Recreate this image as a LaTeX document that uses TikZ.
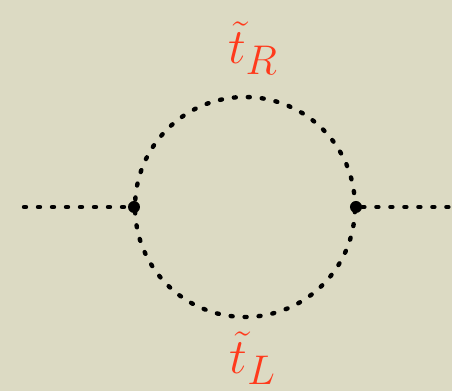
\documentclass[tikz,border=0pt]{standalone}
\usepackage{amsmath,amssymb}
\usepackage{xcolor}
\usepackage{tikz}
\usetikzlibrary{positioning, calc}

\begin{document}
\begin{tikzpicture}[x=0.5pt, y=0.5pt]

\definecolor{bgPaper}{HTML}{DCDAC3}
\definecolor{lblRed}{HTML}{FF3A1C}

\tikzset{
  scalar/.style={line width=2.2pt, line cap=round, dash pattern=on 1pt off 6pt},
  vtx/.style={circle, fill=black, inner sep=0pt, minimum size=6pt},
  lbl/.style={text=lblRed, font=\fontsize{32}{38}\selectfont}
}

% background
\fill[bgPaper] (0,0) rectangle (452,391);
\useasboundingbox (0,0) rectangle (452,391);

% loop
\coordinate (c) at (245,184);
\draw[scalar] (c) circle (110);

% vertices and external legs
\node[vtx] (vL) at (134,184) {};
\node[vtx] (vR) at (356,184) {};
\coordinate (inL) at (24,184);
\coordinate (outR) at (452,184);
\draw[scalar] (inL) -- (vL);
\draw[scalar] (vR) -- (outR);

% labels
\node[lbl] (tR) at (253,343) {$\tilde{t}_R$};
\node[lbl] (tL) at (253,33) {$\tilde{t}_L$};

\end{tikzpicture}
\end{document}
